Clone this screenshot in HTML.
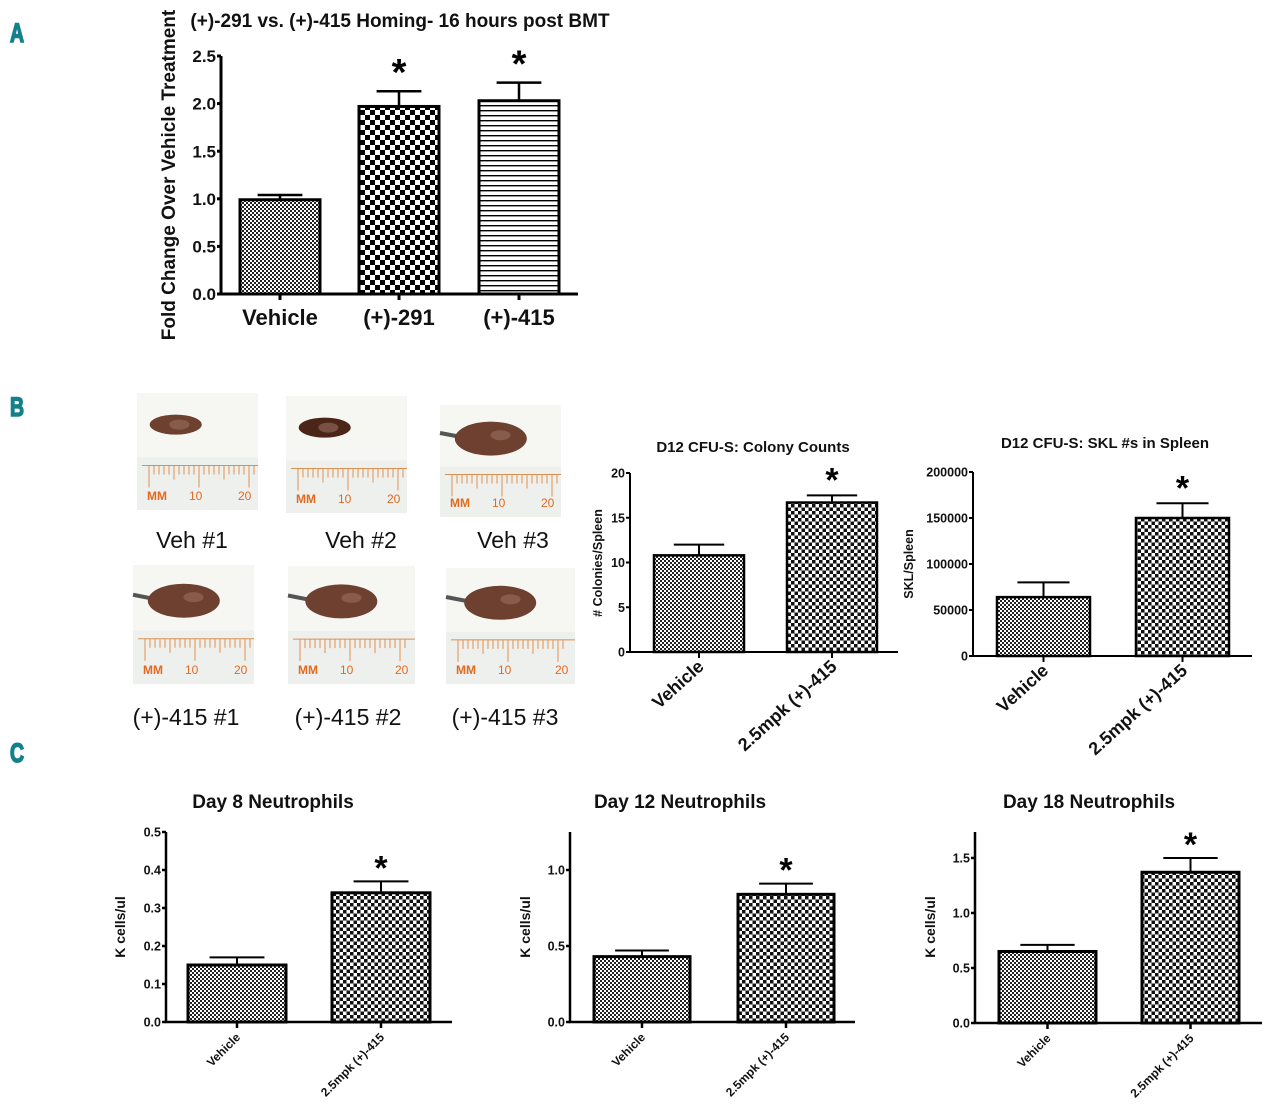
<!DOCTYPE html>
<html><head><meta charset="utf-8"><style>
html,body{margin:0;padding:0;background:#fff;}
svg{display:block;font-family:"Liberation Sans",sans-serif;}
.lt{font-family:"Liberation Sans",sans-serif;font-weight:bold;fill:#14808c;stroke:#14808c;stroke-width:1.6;font-size:27px;}
</style></head><body>
<svg id="fig" width="1280" height="1119" viewBox="0 0 1280 1119" xmlns="http://www.w3.org/2000/svg">
<defs>
<pattern id="pFine" width="4" height="4" patternUnits="userSpaceOnUse"><rect width="4" height="4" fill="#fff"/><rect width="2" height="2" fill="#222"/><rect x="2" y="2" width="2" height="2" fill="#222"/></pattern>
<pattern id="pCoarse" width="10" height="10" patternUnits="userSpaceOnUse"><rect width="10" height="10" fill="#fff"/><rect width="5" height="5" fill="#000"/><rect x="5" y="5" width="5" height="5" fill="#000"/></pattern>
<pattern id="pMed" width="7" height="7" patternUnits="userSpaceOnUse"><rect width="7" height="7" fill="#fff"/><rect width="3.5" height="3.5" fill="#111"/><rect x="3.5" y="3.5" width="3.5" height="3.5" fill="#111"/></pattern>
<pattern id="pStripe" width="6" height="5" patternUnits="userSpaceOnUse"><rect width="6" height="5" fill="#fff"/><rect y="0" width="6" height="1.4" fill="#000"/></pattern>
</defs>
<text class="lt" transform="translate(10,42) scale(0.72,1)">A</text>
<text class="lt" transform="translate(10,416) scale(0.72,1)">B</text>
<text class="lt" transform="translate(10,762) scale(0.72,1)">C</text>
<g id="photos"></g>
<g id="charts"></g>
</svg>
<script>
// Panel A
const aCats = ["Vehicle", "(+)-291", "(+)-415"];
const aVals = [0.99, 1.97, 2.03];
const aErrs = [0.05, 0.16, 0.19];
const aTicks = [0, 0.5, 1.0, 1.5, 2.0, 2.5];
const aTickLabels = ["0.0", "0.5", "1.0", "1.5", "2.0", "2.5"];
const aSig = [false, true, true];
// Panel B colony counts
const b1Cats = ["Vehicle", "2.5mpk (+)-415"];
const b1Vals = [10.8, 16.7];
const b1Errs = [1.2, 0.8];
const b1Ticks = [0, 5, 10, 15, 20];
const b1TickLabels = ["0", "5", "10", "15", "20"];
const b1Sig = [false, true];
// Panel B SKL
const b2Cats = ["Vehicle", "2.5mpk (+)-415"];
const b2Vals = [64000, 150000];
const b2Errs = [16000, 16000];
const b2Ticks = [0, 50000, 100000, 150000, 200000];
const b2TickLabels = ["0", "50000", "100000", "150000", "200000"];
const b2Sig = [false, true];
// Panel C
const c1Cats = ["Vehicle", "2.5mpk (+)-415"];
const c1Vals = [0.15, 0.34];
const c1Errs = [0.02, 0.03];
const c1Ticks = [0, 0.1, 0.2, 0.3, 0.4, 0.5];
const c1TickLabels = ["0.0", "0.1", "0.2", "0.3", "0.4", "0.5"];
const c2Cats = ["Vehicle", "2.5mpk (+)-415"];
const c2Vals = [0.43, 0.84];
const c2Errs = [0.04, 0.07];
const c2Ticks = [0, 0.5, 1.0];
const c2TickLabels = ["0.0", "0.5", "1.0"];
const c3Cats = ["Vehicle", "2.5mpk (+)-415"];
const c3Vals = [0.65, 1.37];
const c3Errs = [0.06, 0.13];
const c3Ticks = [0, 0.5, 1.0, 1.5];
const c3TickLabels = ["0.0", "0.5", "1.0", "1.5"];
const cSig = [false, true];

const NS = "http://www.w3.org/2000/svg";
function mk(tag, attrs, parent, txt) {
  const e = document.createElementNS(NS, tag);
  for (const k in attrs) e.setAttribute(k, attrs[k]);
  if (txt !== undefined) e.textContent = txt;
  parent.appendChild(e);
  return e;
}
const root = document.getElementById('charts');

function chart(o) {
  const g = mk('g', {}, root);
  
  
  const y = v => o.y0 - v / o.ymax * (o.y0 - o.ytop);
  if (o.title) {
    const t = mk('text', {x: o.tx, y: o.ty, 'text-anchor': 'middle', 'font-size': o.tfs, 'font-weight': 'bold', fill: '#111'}, g, o.title);
    
    
  }
  const yt = mk('text', {x: 0, y: 0, transform: `translate(${o.ytx},${o.yty}) rotate(-90)`, 'text-anchor': 'middle', 'font-size': o.ytfs, 'font-weight': 'bold', fill: '#111'}, g, o.ytitle);
  
  
  o.vals.forEach((v, i) => {
    const x0 = o.bx[i], w = o.bw;
    const bar = mk('rect', {x: x0, y: y(v), width: w, height: o.y0 - y(v), fill: o.fills[i], stroke: '#000', 'stroke-width': o.sw}, g);
    
    
    const cx = x0 + w / 2, ey = y(v + o.errs[i]);
    const eb = mk('path', {d: `M${cx},${y(v)} V${ey} M${cx - w * 0.28},${ey} H${cx + w * 0.28}`, stroke: '#000', 'stroke-width': o.esw, fill: 'none'}, g);
    
    
    if (o.sig && o.sig[i]) {
      const s = mk('text', {x: cx, y: ey - o.sigOff, 'text-anchor': 'middle', 'font-size': o.sigfs, 'font-weight': 'bold', fill: '#000'}, g, '*');
      
      
    }
    mk('line', {x1: cx, x2: cx, y1: o.y0, y2: o.y0 + 6, stroke: '#000', 'stroke-width': o.asw}, g);
    let lab;
    if (o.rot) {
      lab = mk('text', {x: 0, y: 0, transform: `translate(${cx + o.lOff},${o.y0 + o.lDy}) rotate(${o.rot})`, 'text-anchor': 'end', 'font-size': o.xfs, 'font-weight': 'bold', fill: '#111'}, g, o.cats[i]);
    } else {
      lab = mk('text', {x: cx, y: o.y0 + o.lDy, 'text-anchor': 'middle', 'font-size': o.xfs, 'font-weight': 'bold', fill: '#111'}, g, o.cats[i]);
    }
    
    
  });
  const ax = mk('path', {d: `M${o.x0},${o.ytop} V${o.y0} H${o.xend}`, stroke: '#000', 'stroke-width': o.asw, fill: 'none'}, g);
  
  
  o.ticks.forEach((t, i) => {
    mk('line', {x1: o.x0 - 4, x2: o.x0, y1: y(t), y2: y(t), stroke: '#000', 'stroke-width': o.asw}, g);
    const tl = mk('text', {x: o.x0 - 5, y: y(t) + o.yfs * 0.36, 'text-anchor': 'end', 'font-size': o.yfs, 'font-weight': 'bold', fill: '#111'}, g, o.tickLabels[i]);
    
    
  });
}

chart({name: 'chart-homing', cats: aCats, vals: aVals, errs: aErrs, ticks: aTicks, tickLabels: aTickLabels, sig: aSig,
  x0: 221, xend: 578, y0: 294, ytop: 56, ymax: 2.5, bx: [240, 359, 479], bw: 80,
  fills: ['url(#pFine)', 'url(#pCoarse)', 'url(#pStripe)'], sw: 3, esw: 2.5, asw: 3,
  title: '(+)-291 vs. (+)-415 Homing- 16 hours post BMT', tx: 400, ty: 27, tfs: 19,
  ytitle: 'Fold Change Over Vehicle Treatment', ytx: 175, yty: 175, ytfs: 19,
  yfs: 17, xfs: 22, lDy: 31, sigfs: 38, sigOff: 6});

chart({name: 'chart-colony-counts', cats: b1Cats, vals: b1Vals, errs: b1Errs, ticks: b1Ticks, tickLabels: b1TickLabels, sig: b1Sig,
  x0: 630, xend: 898, y0: 652, ytop: 473, ymax: 20, bx: [654, 787], bw: 90,
  fills: ['url(#pFine)', 'url(#pMed)'], sw: 2.5, esw: 2, asw: 2,
  title: 'D12 CFU-S: Colony Counts', tx: 753, ty: 452, tfs: 15,
  ytitle: '# Colonies/Spleen', ytx: 602, yty: 563, ytfs: 12.5,
  yfs: 12.5, xfs: 18, rot: -42, lOff: 6, lDy: 16, sigfs: 34, sigOff: 4});

chart({name: 'chart-skl-spleen', cats: b2Cats, vals: b2Vals, errs: b2Errs, ticks: b2Ticks, tickLabels: b2TickLabels, sig: b2Sig,
  x0: 973, xend: 1252, y0: 656, ytop: 472, ymax: 200000, bx: [997, 1136], bw: 93,
  fills: ['url(#pFine)', 'url(#pMed)'], sw: 2.5, esw: 2, asw: 2,
  title: 'D12 CFU-S: SKL #s in  Spleen', tx: 1105, ty: 448, tfs: 15,
  ytitle: 'SKL/Spleen', ytx: 913, yty: 564, ytfs: 12.5,
  yfs: 12.5, xfs: 18, rot: -42, lOff: 6, lDy: 16, sigfs: 34, sigOff: 4});

const cBase = {sw: 3, esw: 2, asw: 2.5, tfs: 19, ytfs: 14, yfs: 12.5, xfs: 12, rot: -45, lOff: 4, lDy: 16, sigfs: 34, sigOff: 2, fills: ['url(#pFine)', 'url(#pMed)'], ytitle: 'K cells/ul', ty: 808};
chart(Object.assign({}, cBase, {name: 'chart-day8-neutrophils', cats: c1Cats, vals: c1Vals, errs: c1Errs, ticks: c1Ticks, tickLabels: c1TickLabels, sig: cSig,
  x0: 166, xend: 452, y0: 1022, ytop: 832, ymax: 0.5, bx: [188, 332], bw: 98, title: 'Day 8  Neutrophils', tx: 273, ytx: 125, yty: 927}));
chart(Object.assign({}, cBase, {name: 'chart-day12-neutrophils', cats: c2Cats, vals: c2Vals, errs: c2Errs, ticks: c2Ticks, tickLabels: c2TickLabels, sig: cSig,
  x0: 570, xend: 855, y0: 1022, ytop: 832, ymax: 1.25, bx: [594, 738], bw: 96, title: 'Day 12 Neutrophils', tx: 680, ytx: 530, yty: 927}));
chart(Object.assign({}, cBase, {name: 'chart-day18-neutrophils', cats: c3Cats, vals: c3Vals, errs: c3Errs, ticks: c3Ticks, tickLabels: c3TickLabels, sig: cSig,
  x0: 975, xend: 1262, y0: 1023, ytop: 832, ymax: 1.736, bx: [999, 1142], bw: 97, title: 'Day 18 Neutrophils', tx: 1089, ytx: 935, yty: 927}));

// Photos
const photoBoxes = [[137,393,121,117,'Veh #1',192,548,0],[286,396,121,117,'Veh #2',361,548,0],[440,405,121,112,'Veh #3',513,548,1],
  [133,565,121,119,'(+)-415 #1',186,725,1],[288,566,127,118,'(+)-415 #2',348,725,1],[446,568,129,116,'(+)-415 #3',505,725,1]];
const ph = document.getElementById('photos');
photoBoxes.forEach((p, i) => {
  const [x, yy, w, h, lab, lx, ly, big] = p;
  const g = mk('g', {}, ph);
  
  
  mk('rect', {x, y: yy, width: w, height: h, fill: '#f6f7f2'}, g);
  mk('rect', {x, y: yy + h * 0.55, width: w, height: h * 0.45, fill: '#eef0ee'}, g);
  if (big) mk('path', {d: `M${x},${yy + h * 0.25} L${x + 30},${yy + h * 0.3}`, stroke: '#555', 'stroke-width': 4}, g);
  mk('ellipse', {cx: x + w * (big ? 0.42 : 0.32), cy: yy + h * (big ? 0.3 : 0.27), rx: big ? 36 : 26, ry: big ? 17 : 10, fill: i === 1 ? '#4a2518' : '#6e4030'}, g);
  mk('ellipse', {cx: x + w * (big ? 0.5 : 0.35), cy: yy + h * 0.27, rx: 10, ry: 5, fill: '#9a7060', opacity: 0.6}, g);
  const ry = yy + h * 0.62;
  mk('line', {x1: x + 5, x2: x + w, y1: ry, y2: ry, stroke: '#d89050', 'stroke-width': 1}, g);
  for (let k = 0; k < 22; k++) mk('line', {x1: x + 12 + k * 5, x2: x + 12 + k * 5, y1: ry, y2: ry + (k % 10 === 0 ? 22 : (k % 5 === 0 ? 14 : 9)), stroke: '#e09050', 'stroke-width': 1}, g);
  mk('text', {x: x + 10, y: yy + h - 10, 'font-size': 12, fill: '#e06a20', 'font-weight': 'bold'}, g, 'MM');
  mk('text', {x: x + 52, y: yy + h - 10, 'font-size': 12, fill: '#e06a20'}, g, '10');
  mk('text', {x: x + w - 20, y: yy + h - 10, 'font-size': 12, fill: '#e06a20'}, g, '20');
  const t = mk('text', {x: lx, y: ly, 'text-anchor': 'middle', 'font-size': 23, fill: '#111'}, ph, lab);
  
  
});
</script>
</body></html>
